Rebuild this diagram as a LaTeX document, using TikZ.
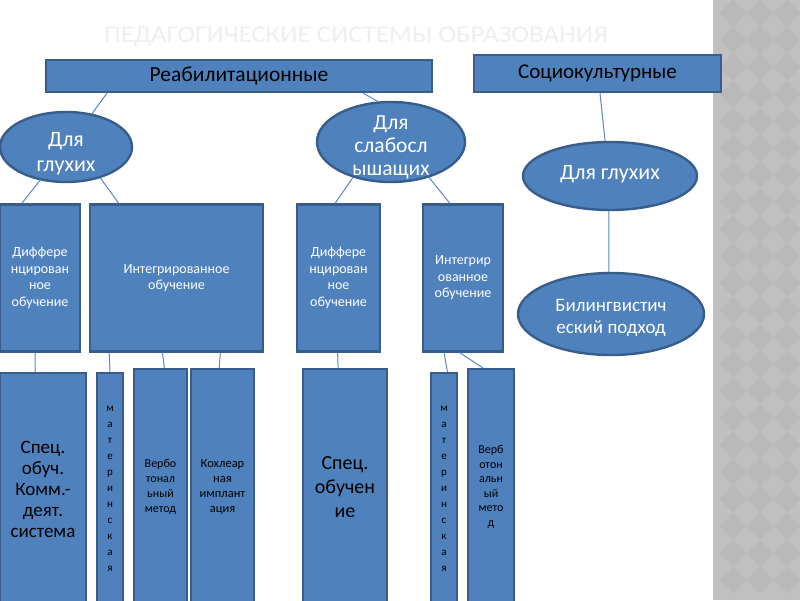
\documentclass[tikz,border=0pt]{standalone}
\usepackage{fontspec}
\setmainfont{Carlito}
\usetikzlibrary{shapes.geometric,calc}
\definecolor{boxfill}{HTML}{4F81BD}
\definecolor{boxline}{HTML}{385D8A}
\definecolor{conn}{HTML}{5A88C2}
\definecolor{bandA}{HTML}{C0C0C0}
\definecolor{bandB}{HTML}{B9B9B9}
\definecolor{titlec}{HTML}{EEEEF3}
\tikzset{
  blk/.style={draw=boxline, fill=boxfill, line width=2.4pt, rectangle, inner sep=0pt, align=center},
  oval/.style={draw=boxline, fill=boxfill, line width=2.4pt, ellipse, inner sep=0pt},
  ovaltext/.style={align=center, text=white, inner sep=0pt, font=\fontsize{22}{25}\selectfont},
  link/.style={draw=conn, line width=1pt},
  smallw/.style={text=white, font=\fontsize{14}{16.5}\selectfont},
  tinyb/.style={text=black, font=\fontsize{12}{15}\selectfont},
  bigb/.style={text=black, font=\fontsize{19}{21}\selectfont},
}
\begin{document}
\begin{tikzpicture}[x=1pt,y=-1pt]
\useasboundingbox (0,0) rectangle (800,600);
\fill[white] (0,0) rectangle (800,600);
% gray band
\begin{scope}
\clip (713,0) rectangle (800,600);
\fill[bandA] (713,0) rectangle (800,600);
\foreach \i in {0,...,3}{
  \foreach \j in {0,...,21}{
    \fill[bandB] ({733+27*\i},{13+27*\j-13.5}) -- ++(13.5,13.5) -- ++(-13.5,13.5) -- ++(-13.5,-13.5) -- cycle;
  }
}
\end{scope}
\begin{scope}
\clip (0,0) rectangle (800,600);
% title
\node[text=titlec, font=\fontsize{24}{24}\selectfont] (title) at (356,37) {\scalebox{1.12}[1]{ПЕДАГОГИЧЕСКИЕ СИСТЕМЫ ОБРАЗОВАНИЯ}};
% top boxes
\node[blk, minimum width=386pt, minimum height=32pt, font=\fontsize{21.5}{21.5}\selectfont] (reab) at (239,76) {Реабилитационные};
\node[blk, minimum width=247pt, minimum height=37pt, font=\fontsize{21}{21}\selectfont] (socio) at (597.5,73.5) {Социокультурные};
% ellipses
\node[oval, minimum width=132pt, minimum height=70pt, label={[ovaltext, yshift=-7pt]center:{Для\\глухих}}] (gl1) at (66,147) {};
\node[oval, minimum width=148pt, minimum height=80pt, label={[ovaltext, yshift=-5pt, font=\fontsize{21.5}{23}\selectfont]center:{Для\\слабосл\\ышащих}}] (sl) at (391,142) {};
\node[oval, minimum width=174pt, minimum height=68pt, label={[ovaltext, yshift=2pt]center:{Для глухих}}] (gl2) at (610,176) {};
\node[oval, minimum width=186pt, minimum height=82pt, label={[ovaltext, yshift=-4pt, font=\fontsize{19}{22}\selectfont]center:{Билингвистич\\еский подход}}] (bil) at (611,314) {};
% row 2
\node[blk, smallw, minimum width=80pt, minimum height=147pt] (dif1) at (40,278) {Диффере\\нцирован\\ное\\обучение};
\node[blk, smallw, minimum width=173pt, minimum height=147pt] (int1) at (176.5,278) {Интегрированное\\обучение};
\node[blk, smallw, minimum width=83pt, minimum height=147pt] (dif2) at (338.5,278) {Диффере\\нцирован\\ное\\обучение};
\node[blk, smallw, minimum width=80pt, minimum height=147pt] (int2) at (463,278) {Интегрир\\ованное\\обучение};
% row 3
\node[blk, bigb, minimum width=86pt, minimum height=232pt] (spec1) at (43,489) {Спец.\\обуч.\\Комм.-\\деят.\\система};
\node[blk, tinyb, minimum width=26pt, minimum height=232pt, font=\fontsize{11}{16}\selectfont] (mat1) at (110,489) {м\\а\\т\\е\\р\\и\\н\\с\\к\\а\\я};
\node[blk, tinyb, minimum width=53pt, minimum height=236pt] (verb1) at (160.5,487) {Вербо\\тонал\\ьный\\метод};
\node[blk, tinyb, minimum width=63pt, minimum height=236pt, font=\fontsize{12.5}{15}\selectfont] (koh) at (222.5,487) {Кохлеар\\ная\\имплант\\ация};
\node[blk, bigb, minimum width=84pt, minimum height=236pt, font=\fontsize{20}{24}\selectfont] (spec2) at (345,487) {Спец.\\обучен\\ие};
\node[blk, tinyb, minimum width=26pt, minimum height=232pt, font=\fontsize{11}{16}\selectfont] (mat2) at (444,489) {м\\а\\т\\е\\р\\и\\н\\с\\к\\а\\я};
\node[blk, tinyb, minimum width=46pt, minimum height=236pt, font=\fontsize{12}{14.5}\selectfont] (verb2) at (491,487) {Верб\\отон\\альн\\ый\\мето\\д};
% connectors
\draw[link] ($(reab.south west)!0.16!(reab.south east)$) -- (gl1.52);
\draw[link] ($(reab.south west)!0.82!(reab.south east)$) -- (sl.108);
\draw[link] ($(socio.south west)!0.51!(socio.south east)$) -- (gl2.98);
\draw[link] (gl1.232) -- ($(dif1.north west)!0.28!(dif1.north east)$);
\draw[link] (gl1.318) -- ($(int1.north west)!0.17!(int1.north east)$);
\draw[link] (sl.223) -- ($(dif2.north west)!0.46!(dif2.north east)$);
\draw[link] (sl.317) -- ($(int2.north west)!0.34!(int2.north east)$);
\draw[link] (gl2.268) -- (bil.93);
\draw[link] ($(dif1.south west)!0.44!(dif1.south east)$) -- ($(spec1.north west)!0.41!(spec1.north east)$);
\draw[link] ($(int1.south west)!0.116!(int1.south east)$) -- (mat1.north);
\draw[link] ($(int1.south west)!0.42!(int1.south east)$) -- ($(verb1.north west)!0.57!(verb1.north east)$);
\draw[link] ($(int1.south west)!0.75!(int1.south east)$) -- ($(koh.north west)!0.45!(koh.north east)$);
\draw[link] ($(dif2.south west)!0.49!(dif2.south east)$) -- ($(spec2.north west)!0.42!(spec2.north east)$);
\draw[link] ($(int2.south west)!0.27!(int2.south east)$) -- ($(mat2.north west)!0.62!(mat2.north east)$);
\draw[link] ($(int2.south west)!0.46!(int2.south east)$) -- ($(verb2.north west)!0.33!(verb2.north east)$);
\end{scope}
\end{tikzpicture}
\end{document}
